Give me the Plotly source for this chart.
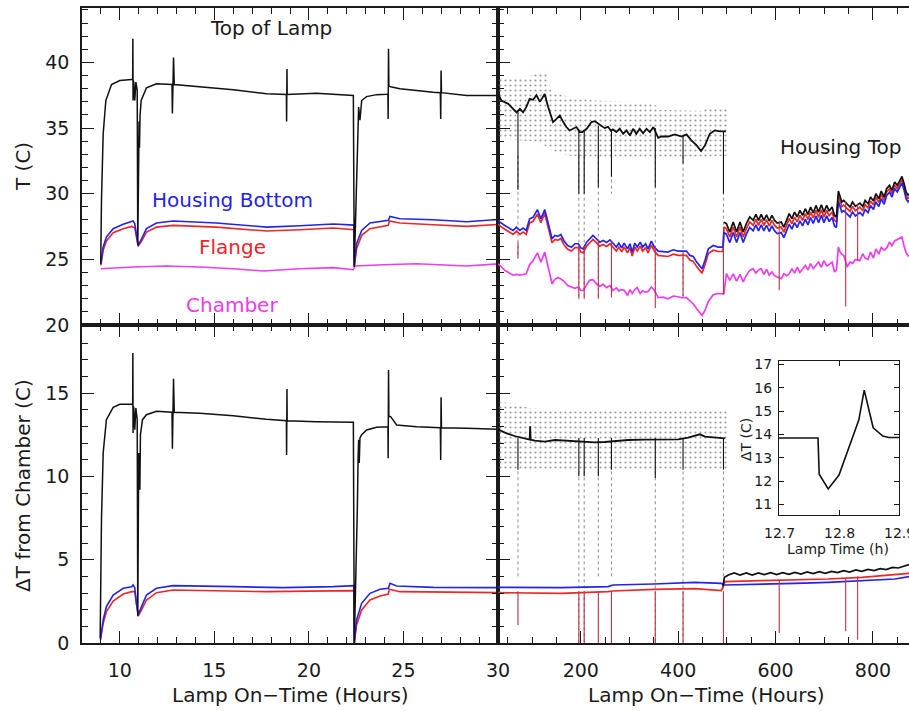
import plotly.graph_objects as go

# ---------------- left panels: first 30 hours of lamp operation ----------------
# Top of Lamp temperature (C)
lamp_t_hr = [8.99, 9.03, 9.12, 9.26, 9.56, 10.0, 10.63, 10.68, 10.69, 10.70, 10.71, 10.74, 10.79,
             10.85, 10.92, 10.95, 11.0, 11.02, 11.04, 11.07, 11.13, 11.41, 11.94, 12.76, 12.78,
             12.84, 12.88, 14.23, 16.0, 17.76, 18.81, 18.82, 18.84, 18.85, 20.4, 22.35, 22.40,
             22.49, 22.56, 22.63, 22.70, 22.79, 23.05, 23.58, 24.11, 24.18, 24.19, 24.21, 24.23,
             24.32, 24.81, 26.58, 26.95, 26.97, 26.99, 27.01, 28.34, 30.1]
lamp_t_val = [24.67, 29.5, 34.57, 37.1, 38.32, 38.63, 38.71, 38.71, 41.8, 37.1, 38.6, 38.5, 37.1,
              38.5, 37.87, 26.07, 33.8, 35.5, 33.5, 36.0, 37.1, 38.07, 38.38, 38.32, 36.12,
              40.37, 38.32, 38.17, 37.92, 37.61, 37.56, 35.5, 39.5, 37.56, 37.66, 37.49, 24.42,
              29.5, 32.8, 36.6, 35.6, 37.1, 37.4, 37.55, 37.58, 37.6, 35.7, 41.04, 38.2,
              38.15, 38.0, 37.74, 37.7, 35.7, 39.39, 37.7, 37.49, 37.49]

# Housing Bottom temperature (C)
hbot_t_hr = [8.995, 9.12, 9.29, 9.65, 10.18, 10.63, 10.70, 10.79, 10.88, 10.97, 11.15, 11.41, 11.94,
             12.82, 15.11, 17.76, 19.52, 21.29, 22.38, 22.40, 22.52, 22.79, 23.23, 24.2, 24.29,
             24.81, 26.58, 28.34, 30.1]
hbot_t_val = [24.67, 25.94, 26.7, 27.34, 27.67, 27.84, 27.92, 27.72, 26.7, 26.07, 26.57, 27.34, 27.77,
              27.92, 27.77, 27.46, 27.56, 27.69, 27.61, 24.54, 26.19, 27.21, 27.77, 27.97, 28.27,
              28.1, 28.02, 27.87, 28.05]

# Flange temperature (C)
flange_t_hr = [8.995, 9.12, 9.29, 9.65, 10.18, 10.63, 10.79, 10.88, 10.97, 11.15, 11.41, 11.94, 12.82,
               15.11, 17.76, 19.52, 21.29, 22.38, 22.40, 22.52, 22.79, 23.23, 24.2, 24.25, 24.81,
               26.58, 28.34, 30.1]
flange_t_val = [24.54, 25.69, 26.4, 27.03, 27.34, 27.51, 27.41, 26.5, 25.99, 26.4, 27.08, 27.46, 27.59,
                27.46, 27.16, 27.26, 27.39, 27.26, 24.42, 25.81, 26.83, 27.34, 27.59, 27.92, 27.77,
                27.64, 27.51, 27.66]

# Chamber temperature (C)
chamber_t_hr = [8.995, 10.7, 12.47, 14.23, 16.0, 17.59, 19.52, 21.29, 22.35, 22.44, 23.94, 25.7,
                28.34, 30.1]
chamber_t_val = [24.29, 24.42, 24.49, 24.42, 24.29, 24.11, 24.29, 24.37, 24.21, 24.49, 24.59, 24.67,
                 24.49, 24.67]

# Difference from chamber (C)
lamp_d_hr = [8.96, 9.03, 9.12, 9.29, 9.65, 10.0, 10.63, 10.68, 10.69, 10.70, 10.71, 10.74, 10.79,
             10.85, 10.92, 10.95, 11.0, 11.02, 11.04, 11.06, 11.09, 11.13, 11.2, 11.41, 11.94,
             12.76, 12.78, 12.84, 12.88, 14.23, 16.0, 17.76, 18.81, 18.82, 18.84, 18.85, 20.4,
             22.35, 22.40, 22.49, 22.56, 22.60, 22.63, 22.66, 22.70, 22.79, 23.05, 23.58, 24.11,
             24.18, 24.19, 24.21, 24.23, 24.32, 24.64, 25.7, 26.95, 26.97, 26.99, 27.01, 28.34, 30.1]
lamp_d_val = [0.28, 7.4, 11.4, 13.4, 14.14, 14.32, 14.32, 14.3, 17.4, 12.6, 14.2, 14.1, 12.8,
              14.1, 13.4, 1.6, 11.4, 10.0, 11.3, 9.2, 12.5, 12.8, 13.4, 13.7, 13.9,
              13.85, 11.65, 15.85, 13.85, 13.78, 13.64, 13.42, 13.34, 11.28, 15.24, 13.34, 13.28,
              13.24, 0.0, 3.8, 8.0, 11.0, 12.2, 10.8, 12.3, 12.5, 12.78, 12.94, 12.98,
              12.98, 11.08, 16.38, 13.6, 13.58, 13.08, 12.98, 12.92, 10.98, 14.74, 12.92, 12.88, 12.82]

hbot_d_hr = [8.98, 9.12, 9.29, 9.65, 10.18, 10.63, 10.70, 10.79, 10.88, 10.97, 11.15, 11.41, 11.94,
             12.82, 16.0, 18.64, 21.29, 22.38, 22.40, 22.52, 22.79, 23.23, 23.76, 24.2, 24.29,
             24.64, 26.58, 30.1]
hbot_d_val = [0.18, 1.38, 2.18, 2.88, 3.28, 3.38, 3.48, 3.32, 2.38, 1.68, 2.18, 2.88, 3.28,
              3.44, 3.38, 3.32, 3.38, 3.44, 0.0, 1.38, 2.38, 2.98, 3.22, 3.28, 3.58,
              3.42, 3.34, 3.32]

flange_d_hr = [8.98, 9.12, 9.29, 9.65, 10.18, 10.63, 10.79, 10.88, 10.97, 11.15, 11.41, 11.94, 12.82,
               17.76, 22.38, 22.40, 22.52, 22.79, 23.23, 23.76, 24.2, 24.25, 24.81, 30.1]
flange_d_val = [0.28, 1.18, 1.88, 2.52, 2.94, 3.08, 3.08, 2.18, 1.62, 1.98, 2.58, 3.02, 3.18,
                3.08, 3.14, 0.0, 1.08, 1.98, 2.58, 2.82, 2.94, 3.22, 3.08, 3.02]

# ---------------- right panels: long-term operation (hours) ----------------
# Top of Lamp, smoothed (C)
lamp_lt_hr = [30, 37, 51, 61, 68, 75, 81.5, 88, 95, 102, 109, 116, 126, 133, 143, 150, 157, 164,
              170.5, 177, 184, 191, 198, 203, 212, 222, 229, 242, 249, 256, 262,
              266, 273, 280, 287, 294, 301, 307.5, 314, 321, 328, 335, 342, 349, 359, 366, 379,
              393, 407, 417, 427, 438, 447, 455, 465, 475, 486, 498]
lamp_lt_val = [37.6, 37.1, 36.85, 36.47, 36.2, 36.47, 36.2, 36.6, 37.23, 37.16, 37.5, 37.0,
               37.6, 36.6, 35.46, 35.7, 35.96, 35.46, 35.08, 34.82, 34.95, 35.08, 34.7, 34.7,
               34.95, 35.46, 35.53, 35.2, 35.0, 35.1, 34.8, 34.9, 34.7, 34.95,
               34.57, 34.82, 34.44, 34.95, 34.57, 34.95, 34.6, 34.95, 34.7, 35.08, 34.26,
               34.36, 34.36, 34.52, 34.36, 34.52, 34.06, 33.68, 33.25, 33.68, 34.57, 34.82,
               34.75, 34.75]

# spread of the raw Top of Lamp readings (C)
raw_band_hr = [30, 60, 95, 100, 130, 140, 175, 230, 300, 350, 360, 450, 460, 503]
raw_band_hi = [38.9, 38.9, 38.7, 39.3, 39.3, 37.7, 37.4, 37.1, 37.0, 36.9, 36.4, 36.3, 36.6, 36.6]
raw_band_lo = [34.2, 34.1, 34.0, 34.0, 33.6, 33.3, 32.9, 32.8, 32.8, 32.8, 32.8, 32.8, 32.8, 32.9]
raw_dband_hi = [14.45, 14.4, 14.1, 14.1, 14.0, 14.0, 14.0, 14.0, 14.0, 14.0, 14.0, 14.0, 14.0, 14.0]
raw_dband_lo = [10.4, 10.35, 10.3, 10.3, 10.3, 10.3, 10.3, 10.3, 10.3, 10.3, 10.3, 10.3, 10.3, 10.3]

# sensor dropouts before the move: time, raw-reading low, smoothed low (T and difference)
dropout_hr = [71, 196, 207, 236, 263, 353, 410, 493]
dropout_raw_t = [25.3, 21.9, 21.9, 22.0, 30.0, 22.7, 22.0, 22.3]
dropout_raw_d = [4.0, 0.0, 0.0, 4.0, 4.0, 0.0, 0.0, 0.0]
dropout_lamp_t = [30.3, 30.0, 30.0, 30.5, 31.3, 30.5, 32.3, 30.0]
dropout_lamp_d = [10.4, 10.0, 10.0, 10.0, 10.4, 9.9, 10.4, 10.4]
# dropouts of the housing / flange sensors: time, low T, low difference
sensor_drop_hr = [71, 196, 207, 236, 263, 353, 410, 493, 607.5, 744, 768.5]
sensor_drop_t = [25.05, 22.0, 22.0, 22.0, 22.1, 21.3, 22.2, 22.3, 22.64, 21.4, 24.9]
sensor_drop_d = [1.08, -0.5, -0.5, -0.5, -0.5, -0.5, -0.5, -0.5, 0.6, 0.7, 0.2]

# Housing Bottom / Flange / Chamber before the sensor move (C)
seg_a_hr = [30, 34, 44, 54, 61, 68, 75, 81.5, 88, 95, 102, 111, 118, 126, 134, 141, 147, 153, 159,
            165, 173, 181, 188, 195, 200, 205, 212, 218, 225, 232, 239, 246, 253, 260,
            266, 273, 278, 284, 289, 296, 301, 305.5, 311, 316, 322, 327, 333, 338, 345, 351,
            359, 369, 379, 390, 400, 407, 417, 424, 431, 438, 445, 449, 455, 462, 472,
            482, 492]
hbot_a = [28.0, 27.84, 27.58, 27.33, 27.2, 27.46, 27.2, 27.38, 27.2, 28.09, 28.2, 28.78, 28.09,
          28.8, 27.58, 26.57, 26.82, 26.75, 26.9, 26.44, 26.06, 25.93, 26.19, 26.19, 25.88,
          25.8, 26.31, 26.57, 26.82, 26.57, 26.31, 26.44, 26.29, 26.49, 26.19,
          25.93, 26.24, 25.88, 26.24, 25.8, 26.19, 25.55, 26.24, 25.93, 26.31, 25.93, 26.19, 25.8,
          26.39, 25.93, 25.63, 25.6, 25.55, 25.73, 25.63, 25.63, 25.63, 25.3, 25.22,
          24.79, 24.41, 24.28, 24.92, 25.8, 26.06, 25.93, 25.93]
flange_a = [27.7, 27.55, 27.3, 27.03, 26.9, 27.15, 26.9, 27.08, 26.9, 27.78, 27.9, 28.45, 27.8,
            28.5, 27.28, 26.27, 26.52, 26.45, 26.6, 26.14, 25.76, 25.63, 25.89, 25.89, 25.58,
            25.5, 26.01, 26.27, 26.52, 26.27, 26.01, 26.14, 25.99, 26.19, 25.89,
            25.63, 25.94, 25.58, 25.94, 25.5, 25.89, 25.25, 25.94, 25.63, 26.01, 25.63, 25.89, 25.5,
            26.09, 25.63, 25.3, 25.28, 25.22, 25.4, 25.3, 25.3, 25.3, 24.95, 24.85,
            24.45, 24.08, 23.95, 24.6, 25.45, 25.7, 25.6, 25.6]
chamber_a = [24.66, 24.54, 24.16, 23.95, 23.8, 23.85, 23.8, 23.85, 23.9, 24.6, 24.9, 25.5, 24.79,
             25.55, 24.2, 23.14, 23.5, 23.6, 23.5, 23.35, 23.0, 22.9, 22.8, 22.9, 22.63, 22.63,
             23.0, 23.4, 23.45, 23.14, 22.95, 23.1, 22.85, 23.0, 22.63, 22.83,
             22.6, 22.7, 22.65, 22.25, 22.7, 22.4, 22.7, 22.85, 22.4, 22.6, 22.5, 22.55, 22.89,
             22.65, 22.08, 22.12, 22.0, 22.2, 22.15, 22.08, 22.08, 21.85, 21.6, 21.24,
             20.85, 20.73, 21.11, 21.8, 22.3, 22.4, 22.38]

# Housing Top / Housing Bottom / Flange / Chamber after the sensor move (C)
seg_b_hr = [494, 499, 506, 513, 520, 527, 533.5, 540, 547, 554, 559.5, 565, 570.5, 576, 581.5, 587,
            592.5, 598, 603.5, 611.6, 617, 622.6, 628, 633.5, 639, 644.5, 650, 655.5, 661,
            666.4, 672, 677.4, 683, 688.3, 694, 699.3, 705, 710, 716, 721, 725, 729, 732, 736, 740,
            747, 753, 758, 764, 773, 779, 784, 790, 795, 801, 806, 812, 817, 823, 828,
            834, 839, 844.5, 850, 855.5, 859.5, 864, 868, 872, 874]
htop_b = [27.84, 27.72, 27.08, 27.84, 27.08, 27.84, 27.08, 27.72, 28.23, 27.97,
          28.43, 27.97, 28.43, 27.97, 28.4, 27.92, 28.35, 27.97, 27.77,
          27.84, 27.46, 27.97, 28.48, 28.1, 28.6, 28.23, 28.73, 28.35, 28.86,
          28.43, 28.99, 28.53, 29.11, 28.6, 29.16, 28.6, 29.11, 28.68, 28.99,
          28.35, 28.23, 30.2, 29.75, 29.37, 29.49, 29.24, 28.99, 29.37,
          29.04, 29.29, 29.04, 29.49, 29.24, 29.75, 29.44, 30.0, 29.62,
          30.2, 29.75, 30.38, 30.64, 30.26, 30.89, 30.64, 31.02, 31.32, 30.76,
          30.13, 29.87, 30.0]
flange_b = [27.46, 27.34, 26.7, 27.46, 26.7, 27.46, 26.7, 27.34, 27.85, 27.59,
            28.05, 27.59, 28.05, 27.59, 28.02, 27.54, 27.97, 27.59, 27.39,
            27.46, 27.08, 27.59, 28.1, 27.72, 28.22, 27.85, 28.35, 27.97, 28.48,
            28.05, 28.61, 28.15, 28.73, 28.22, 28.78, 28.22, 28.73, 28.3, 28.61,
            27.97, 27.85, 29.85, 29.4, 29.02, 29.14, 28.9, 28.65, 29.03,
            28.7, 28.97, 28.72, 29.17, 28.92, 29.45, 29.14, 29.72, 29.34,
            29.94, 29.49, 30.12, 30.38, 30.0, 30.64, 30.39, 30.77, 31.07, 30.51,
            29.88, 29.62, 29.75]
hbot_b = [27.04, 26.92, 26.28, 27.04, 26.28, 27.04, 26.28, 26.92, 27.43, 27.17,
          27.63, 27.17, 27.63, 27.17, 27.6, 27.12, 27.55, 27.17, 26.97,
          27.04, 26.66, 27.17, 27.68, 27.3, 27.8, 27.43, 27.93, 27.55, 28.06,
          27.63, 28.19, 27.73, 28.31, 27.8, 28.36, 27.8, 28.31, 27.88, 28.19,
          27.55, 27.43, 29.4, 28.97, 28.6, 28.72, 28.48, 28.23, 28.62,
          28.3, 28.57, 28.34, 28.8, 28.56, 29.1, 28.8, 29.38, 29.02,
          29.62, 29.2, 29.86, 30.12, 29.75, 30.39, 30.14, 30.52, 30.82, 30.26,
          29.63, 29.37, 29.5]
chamber_b = [22.4, 23.91, 23.4, 23.9, 23.35, 23.86, 23.28, 23.78, 24.16, 24.29,
             23.95, 24.2, 24.29, 23.85, 24.24, 23.8, 24.05, 23.75, 23.66,
             23.53, 23.9, 23.75, 23.9, 24.29, 23.95, 24.4, 24.0, 24.3, 24.54,
             24.2, 24.67, 24.3, 24.6, 24.8, 24.4, 24.9, 24.5, 24.6, 24.8,
             24.04, 24.2, 25.94, 25.6, 25.4, 25.3, 24.42, 24.8, 24.7,
             25.0, 24.9, 25.43, 25.1, 25.0, 25.56, 25.1, 25.8, 25.4,
             25.9, 25.7, 25.85, 26.32, 26.05, 26.4, 26.5, 26.57, 26.7, 26.0,
             25.5, 25.3, 25.2]

# Top of Lamp difference from chamber, long term (C)
lamp_ld_hr = [30, 44, 64, 85, 95, 96, 97, 105.5, 126, 147, 167, 188, 210, 229, 249, 270, 297, 331.5,
              366, 400, 420.5, 434, 444.5, 455, 475, 490, 496]
lamp_ld_val = [12.82, 12.62, 12.42, 12.28, 12.2, 13.0, 12.2, 12.14, 12.08, 12.18, 12.14, 12.12, 12.06,
               12.04, 12.06, 12.12, 12.18, 12.2, 12.22, 12.22, 12.32, 12.44, 12.52, 12.38, 12.32,
               12.28, 12.28]

# Housing Top difference from chamber (C)
htop_d_hr = [492, 495, 503, 515, 527, 540, 552, 565, 577, 590, 602, 615, 627, 640, 652, 665, 677, 690,
             702, 715, 727, 740, 752, 765, 777, 790, 802, 815, 827, 840, 852, 865, 874]
htop_d_val = [3.4, 3.95, 4.08, 4.2, 4.08, 4.2, 4.08, 4.2, 4.1, 4.22, 4.1, 4.22, 4.12, 4.24, 4.14, 4.26,
              4.16, 4.28, 4.18, 4.3, 4.22, 4.34, 4.26, 4.38, 4.3, 4.42, 4.34, 4.46, 4.4, 4.54, 4.5,
              4.64, 4.7]

# Housing Bottom / Flange difference from chamber, long term (C)
ld_hr = [30, 92, 160, 256, 266, 350, 407, 434, 489, 492, 496, 571, 640, 708, 777, 845, 874]
hbot_ld = [3.34, 3.34, 3.32, 3.38, 3.48, 3.54, 3.58, 3.64, 3.58, 3.5, 3.48, 3.52, 3.58, 3.64, 3.72,
           3.84, 3.98]
flange_ld = [3.02, 3.02, 2.98, 3.08, 3.12, 3.22, 3.22, 3.26, 3.14, 3.4, 3.68, 3.74, 3.78, 3.84, 3.94,
             4.08, 4.18]

# ---------------- inset: one Top of Lamp glitch ----------------
inset_hr = [12.70, 12.765, 12.767, 12.782, 12.80, 12.833, 12.842, 12.857, 12.873, 12.883, 12.90]
inset_dt = [13.85, 13.85, 12.3, 11.67, 12.26, 14.62, 15.9, 14.29, 13.93, 13.87, 13.87]
inset_xticks = [12.7, 12.8, 12.9]
inset_yticks = [11, 12, 13, 14, 15, 16, 17]

# ---------------- figure ----------------
W, H = 909, 711
BLACK, BLUE, RED, MAG = "#111111", "#2323ee", "#ee2626", "#ee3cee"
DROP = "#c0304a"
INK = "#1a1a1a"
FONT = "DejaVu Sans"


def px(x):
    return x / W


def py(y):
    return 1 - y / H


XL = [px(82), px(498)]
XR = [px(498), 1.0]
YT = [py(325), py(8)]
YB = [py(643), py(325)]
XI = [px(779), px(899)]
YI = [py(515), py(361)]

fig = go.Figure()


def line(x, y, color, width, xa, ya, dash=None):
    fig.add_trace(go.Scatter(x=x, y=y, mode="lines", xaxis=xa, yaxis=ya, hoverinfo="skip",
                             line=dict(color=color, width=width, dash=dash), showlegend=False))


def band(x, hi, lo, xa, ya):
    fig.add_trace(go.Scatter(x=x + x[::-1], y=hi + lo[::-1], mode="lines", fill="toself",
                             xaxis=xa, yaxis=ya, hoverinfo="skip", showlegend=False,
                             line=dict(width=0, color="rgba(0,0,0,0)"),
                             fillcolor="rgba(0,0,0,0)",
                             fillpattern=dict(shape=".", fgcolor="#9a9a9a",
                                              bgcolor="rgba(0,0,0,0)", size=5, solidity=0.15)))


def verticals(xs_in, tops, lows, color, width, xa, ya, dash=None):
    xs, ys = [], []
    for t, hi, lo in zip(xs_in, tops, lows):
        xs += [t, t, None]
        ys += [hi, lo, None]
    line(xs, ys, color, width, xa, ya, dash=dash)


# top-left: temperatures
line(chamber_t_hr, chamber_t_val, MAG, 1.6, "x", "y")
line(flange_t_hr, flange_t_val, RED, 1.6, "x", "y")
line(hbot_t_hr, hbot_t_val, BLUE, 1.6, "x", "y")
line(lamp_t_hr, lamp_t_val, BLACK, 1.5, "x", "y")

# bottom-left: differences
line(flange_d_hr, flange_d_val, RED, 1.6, "x3", "y3")
line(hbot_d_hr, hbot_d_val, BLUE, 1.6, "x3", "y3")
line(lamp_d_hr, lamp_d_val, BLACK, 1.5, "x3", "y3")

# top-right: temperatures
band(raw_band_hr, raw_band_hi, raw_band_lo, "x2", "y2")
verticals(dropout_hr, [32.9] * len(dropout_hr), dropout_raw_t, "#8a8a8a", 1, "x2", "y2", dash="dot")
line(seg_a_hr + seg_b_hr, chamber_a + chamber_b, MAG, 1.7, "x2", "y2")
line(seg_a_hr + seg_b_hr, flange_a + flange_b, RED, 1.7, "x2", "y2")
line(seg_a_hr + seg_b_hr, hbot_a + hbot_b, BLUE, 1.7, "x2", "y2")
line(seg_b_hr, htop_b, BLACK, 1.7, "x2", "y2")
verticals(sensor_drop_hr, [26.3, 26.0, 26.0, 26.5, 26.4, 26.0, 25.5, 26.0, 27.9, 29.4, 29.2],
          sensor_drop_t, DROP, 1.1, "x2", "y2")
line(lamp_lt_hr, lamp_lt_val, BLACK, 1.8, "x2", "y2")
verticals(dropout_hr, [36.3, 34.9, 34.8, 35.2, 34.9, 35.0, 34.5, 34.8], dropout_lamp_t,
          BLACK, 1.1, "x2", "y2")

# bottom-right: differences
band(raw_band_hr, raw_dband_hi, raw_dband_lo, "x4", "y4")
verticals(dropout_hr, [10.3] * len(dropout_hr), dropout_raw_d, "#8a8a8a", 1, "x4", "y4", dash="dot")
line(ld_hr, flange_ld, RED, 1.7, "x4", "y4")
line(ld_hr, hbot_ld, BLUE, 1.7, "x4", "y4")
line(htop_d_hr, htop_d_val, BLACK, 1.7, "x4", "y4")
verticals(sensor_drop_hr, [3.1] * 8 + [3.8, 3.9, 4.0], sensor_drop_d, DROP, 1.1, "x4", "y4")
line(lamp_ld_hr, lamp_ld_val, BLACK, 1.8, "x4", "y4")
verticals(dropout_hr, [12.3] * len(dropout_hr), dropout_lamp_d, BLACK, 1.1, "x4", "y4")

# inset
line(inset_hr, inset_dt, BLACK, 1.6, "x5", "y5")

tickfont = dict(family=FONT, size=19, color=INK)
inset_font = dict(family=FONT, size=14, color=INK)


def frame(domain, anchor, rng, minor_dtick, tickvals, labels=True, mirror="allticks", **kw):
    d = dict(domain=domain, anchor=anchor, range=rng, showline=True, linecolor=INK,
             linewidth=1.5, ticks="inside", ticklen=12, tickwidth=1.2, tickcolor=INK,
             mirror=mirror, showgrid=False, zeroline=False, showticklabels=labels,
             tickfont=tickfont, automargin=False, tickmode="array", tickvals=tickvals,
             minor=dict(ticks="inside", ticklen=6, tickwidth=1, tickcolor=INK,
                        dtick=minor_dtick, showgrid=False))
    d.update(kw)
    return d


T_RANGE = [20, 44.15]
D_RANGE = [0, 19.08]
R_RANGE = [30, 874]

fig.update_layout(
    template="none",
    width=W, height=H, margin=dict(l=0, r=0, t=0, b=0, pad=0), autosize=False,
    paper_bgcolor="white", plot_bgcolor="rgba(0,0,0,0)", showlegend=False,
    font=dict(family=FONT, color=INK),
    xaxis=frame(XL, "y", [8, 30], 1, [10, 15, 20, 25, 30], labels=False),
    yaxis=frame(YT, "x", T_RANGE, 1, [20, 25, 30, 35, 40], ticklabelstandoff=7),
    xaxis2=frame(XR, "y2", R_RANGE, 50, [200, 400, 600, 800], labels=False),
    yaxis2=frame(YT, "x2", T_RANGE, 1, [20, 25, 30, 35, 40], labels=False, mirror=False),
    xaxis3=frame(XL, "y3", [8, 30], 1, [10, 15, 20, 25, 30], ticklabelstandoff=9),
    yaxis3=frame(YB, "x3", D_RANGE, 1, [0, 5, 10, 15], ticklabelstandoff=7),
    xaxis4=frame(XR, "y4", R_RANGE, 50, [200, 400, 600, 800], ticklabelstandoff=9),
    yaxis4=frame(YB, "x4", D_RANGE, 1, [0, 5, 10, 15], labels=False, mirror=False),
    xaxis5=dict(domain=XI, anchor="y5", range=[12.7, 12.9], tickmode="array",
                tickvals=inset_xticks, showticklabels=False,
                showline=True, linecolor=INK, linewidth=1.3, mirror="allticks",
                ticks="inside", ticklen=5, tickcolor=INK, showgrid=False, zeroline=False,
                automargin=False),
    yaxis5=dict(domain=YI, anchor="x5", range=[10.55, 17.15], tickmode="array",
                tickvals=inset_yticks,
                showline=True, linecolor=INK, linewidth=1.3, mirror="allticks",
                ticks="inside", ticklen=5, tickcolor=INK, showgrid=False, zeroline=False,
                tickfont=inset_font, ticklabelstandoff=3, automargin=False),
)


def label(text, x, y, color=INK, size=20, angle=0, xanchor="center", xref="paper"):
    fig.add_annotation(text=text, x=x if xref != "paper" else px(x), y=py(y), xref=xref,
                       yref="paper", showarrow=False, xanchor=xanchor, yanchor="middle",
                       textangle=angle, font=dict(family=FONT, size=size, color=color))


label("Top of Lamp", 271, 28)
label("Housing Bottom", 232, 200, BLUE)
label("Flange", 233, 247, RED)
label("Chamber", 232, 305, MAG)
label("Housing Top", 778, 147, xanchor="left")
label("T (C)", 23, 167, angle=-90)
label("ΔT from Chamber (C)", 23, 486, angle=-90)
label("Lamp On−Time (Hours)", 290, 695)
label("Lamp On−Time (Hours)", 706, 695)

# inset tick labels along the time axis (the last one runs past the page edge)
for t in inset_xticks:
    label(f"{t:.1f}", t, 533, size=14, xref="x5")
label("Lamp Time (h)", 838, 549, size=14)
label("ΔT (C)", 746, 440, size=14, angle=-90)

fig.write_html("out.html")
